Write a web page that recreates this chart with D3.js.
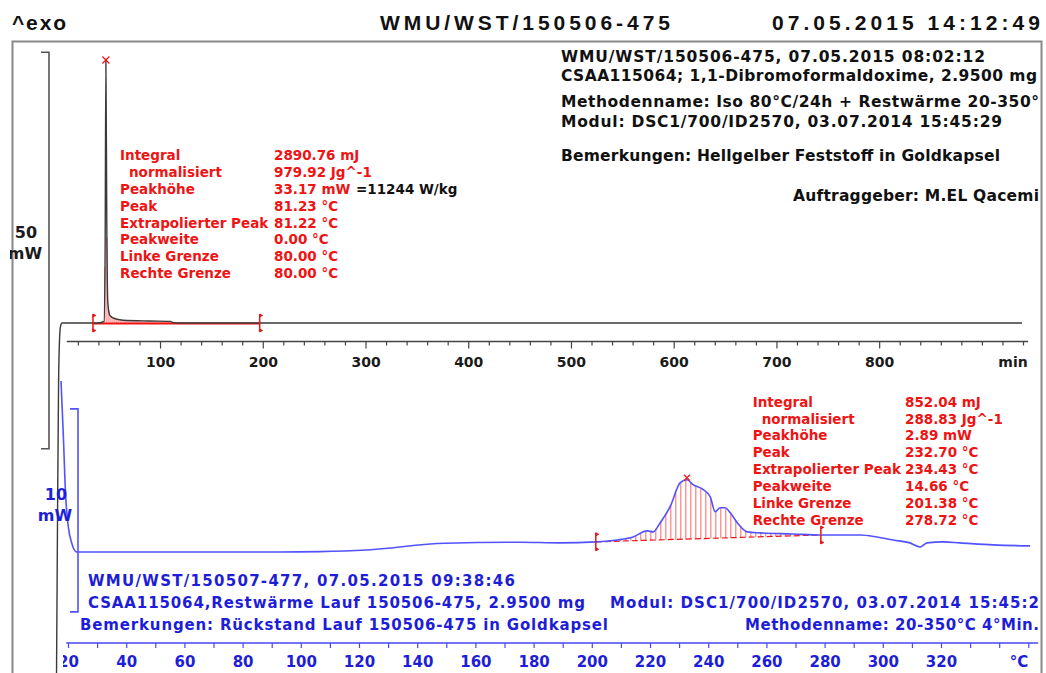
<!DOCTYPE html>
<html><head><meta charset="utf-8">
<script src="https://cdn.jsdelivr.net/npm/d3@7"></script>
<style>body{margin:0;background:#fff;} svg{display:block}</style>
</head><body>
<svg id="chart" width="1046" height="673"></svg>
<script>
// ---------------- DATA ----------------
const headerTexts = ["^exo", "WMU/WST/150506-475", "07.05.2015 14:12:49"];
const topInfoLines = [
  "WMU/WST/150506-475, 07.05.2015 08:02:12",
  "CSAA115064; 1,1-Dibromoformaldoxime, 2.9500 mg",
  "Methodenname: Iso 80°C/24h + Restwärme 20-350°",
  "Modul: DSC1/700/ID2570, 03.07.2014 15:45:29",
  "Bemerkungen: Hellgelber Feststoff in Goldkapsel",
  "Auftraggeber: M.EL Qacemi"
];
const bottomInfoLines = [
  "WMU/WST/150507-477, 07.05.2015 09:38:46",
  "CSAA115064,Restwärme Lauf 150506-475, 2.9500 mg",
  "Modul: DSC1/700/ID2570, 03.07.2014 15:45:2",
  "Bemerkungen: Rückstand Lauf 150506-475 in Goldkapsel",
  "Methodenname: 20-350°C 4°Min."
];
const resultLabels = ["Integral", "normalisiert", "Peakhöhe", "Peak", "Extrapolierter Peak", "Peakweite", "Linke Grenze", "Rechte Grenze"];
const topResultValues = ["2890.76 mJ", "979.92 Jg^-1", "33.17 mW", "81.23 °C", "81.22 °C", "0.00 °C", "80.00 °C", "80.00 °C"];
const topPeakExtra = "=11244 W/kg";
const bottomResultValues = ["852.04 mJ", "288.83 Jg^-1", "2.89 mW", "232.70 °C", "234.43 °C", "14.66 °C", "201.38 °C", "278.72 °C"];

// isothermal run: time (min) vs heat flow (mW, relative to baseline)
const topTime =     [-0.8, 0.2, 1.2, 2.2, 3.2, 4.6, 20, 40, 45.5, 46.5, 47.3, 48.2, 49.2, 51, 55, 64, 90, 110, 113, 120, 200, 400, 600, 800, 939];
const topHeatFlow = [-45, -25, -8, -2, -0.4, 0, 0, 0, 0.2, 8, 33.17, 12, 2.5, 1.0, 0.6, 0.35, 0.25, 0.2, 0.05, 0, 0, 0, 0, 0, 0];
const topPeakTime = 47.3, topPeakValue = 33.17;
const topLimits = [34.7, 197];

// residual heat run: temperature (°C) vs heat flow (mW, relative)
const bottomTemp = [17.6, 18.4, 19.2, 20.1, 21.3, 23.0, 48.2, 79.1, 92, 106.6, 122.7, 149.6, 175.3, 189.1, 201.4, 208.7, 214.2, 219.0, 221.1, 223.5, 226.9, 230.4, 232.7, 234.8, 238.3, 240.7, 242.4, 244.1, 245.8, 247.6, 250.0, 253.4, 257.8, 269.1, 278.4, 292.2, 298.0, 303.5, 309.3, 312.8, 315.2, 320.7, 326.5, 337.9, 350.6];
const bottomHeatFlow = [8.42, 5.71, 2.74, 1.25, 0.43, 0.0, 0.0, 0.0, 0.0, 0.02, 0.1, 0.43, 0.48, 0.45, 0.5, 0.59, 0.74, 1.04, 0.99, 1.44, 2.23, 3.42, 3.56, 3.32, 3.07, 2.72, 1.98, 2.18, 2.18, 1.93, 1.44, 0.99, 0.94, 0.89, 0.84, 0.84, 0.74, 0.59, 0.45, 0.25, 0.45, 0.5, 0.45, 0.35, 0.3];
const bottomPeakTemp = 232.70, bottomPeakValue = 3.56;
const bottomLimits = [201.38, 278.72];

const topScaleBar = { from: -15.85, size: 50, label: ["50", "mW"] };
const bottomScaleBar = { from: -2.95, size: 10, label: ["10", "mW"] };

const topTicks = d3.range(20, 941, 20);
const topTickLabels = [100, 200, 300, 400, 500, 600, 700, 800];
const topUnit = "min";
const bottomTicks = d3.range(20, 351, 10);
const bottomTickLabels = d3.range(20, 321, 20);
const bottomUnit = "°C";

// ---------------- STYLE ----------------
const RED = "#ee1414", HATCH = "#ff7070", BLUE_TXT = "#1e1ed8", BLUE_LINE = "#5252ff", GRAY = "#3a3a3a";
const FONT = "'DejaVu Sans', Verdana, sans-serif";

const svg = d3.select("#chart");
svg.append("rect").attr("width", 1046).attr("height", 673).attr("fill", "#fff");
const defs = svg.append("defs");
defs.append("clipPath").attr("id", "frameClip").append("rect").attr("x", 13).attr("y", 42).attr("width", 1028).attr("height", 640);
defs.append("clipPath").attr("id", "labelClip").append("rect").attr("x", 10).attr("y", 0).attr("width", 80).attr("height", 673);
defs.append("clipPath").attr("id", "botAxisClip").append("rect").attr("x", 63).attr("y", 600).attr("width", 978).attr("height", 80);

function txt(g, s, x, y, o) {
  const t = g.append("text").attr("x", x).attr("y", y).text(s)
    .attr("font-family", o.family || FONT)
    .attr("font-size", o.size).attr("font-weight", o.weight || "bold")
    .attr("fill", o.fill || "#111");
  if (o.anchor) t.attr("text-anchor", o.anchor);
  if (o.len) t.attr("textLength", o.len).attr("lengthAdjust", o.adjust || "spacing");
  return t;
}
function interp(xs, ys, x) {
  const i = d3.bisectLeft(xs, x);
  if (i <= 0) return ys[0];
  if (i >= xs.length) return ys[ys.length - 1];
  const t = (x - xs[i - 1]) / (xs[i] - xs[i - 1]);
  return ys[i - 1] + t * (ys[i] - ys[i - 1]);
}

// header (outside frame)
const HF = "'Liberation Sans Narrow', 'Liberation Sans', Arial, sans-serif";
txt(svg, headerTexts[0], 12, 30, { size: 21, family: HF, fill: "#111", len: 54 });
txt(svg, headerTexts[1], 380, 30, { size: 21, family: HF, fill: "#111", len: 290 });
txt(svg, headerTexts[2], 772, 30, { size: 21, family: HF, fill: "#111", len: 268 });

// frame
svg.append("rect").attr("x", 12.5).attr("y", 41.5).attr("width", 1029).attr("height", 700)
  .attr("fill", "none").attr("stroke", "#888").attr("stroke-width", 2);

const inner = svg.append("g").attr("clip-path", "url(#frameClip)");

// ---------------- SCALES ----------------
const topX = d3.scaleLinear().domain([0, 940]).range([57.3, 1023]);
const topY = d3.scaleLinear().domain([0, 50]).range([323, 323 - 396.5]);
const botX = d3.scaleLinear().domain([20, 350]).range([68, 1028.3]);
const botY = d3.scaleLinear().domain([0, 10]).range([552, 552 - 203]);

// ---------------- TOP AXIS ----------------
const topAxisY = 341.5;
const gTA = inner.append("g").attr("transform", `translate(0,${topAxisY})`);
gTA.call(d3.axisBottom(topX).tickValues(topTicks).tickSizeInner(4).tickSizeOuter(0)
  .tickFormat(d => topTickLabels.includes(d) ? d : ""));
gTA.select(".domain").remove();
gTA.append("line").attr("x1", topX(9.2)).attr("x2", topX(945)).attr("stroke", "#444").attr("stroke-width", 1.5);
gTA.selectAll(".tick line").attr("stroke", "#444").attr("stroke-width", 1.2)
  .attr("y2", d => topTickLabels.includes(d) ? 7 : 4);
gTA.selectAll(".tick text").attr("y", 25.5).attr("dy", 0).attr("font-family", FONT)
  .attr("font-size", 14).attr("font-weight", "bold").attr("fill", "#1a1a1a");
txt(inner, topUnit, 1013, topAxisY + 25.5, { size: 14, anchor: "middle", fill: "#1a1a1a" });

// ---------------- BOTTOM AXIS ----------------
const botAxisY = 643;
const gBA = svg.append("g").attr("clip-path", "url(#botAxisClip)").append("g").attr("transform", `translate(0,${botAxisY})`);
gBA.call(d3.axisBottom(botX).tickValues(bottomTicks).tickSizeInner(5).tickSizeOuter(0)
  .tickFormat(d => bottomTickLabels.includes(d) ? d : ""));
gBA.select(".domain").remove();
gBA.append("line").attr("x1", botX(19.4)).attr("x2", botX(353.4)).attr("stroke", "#4848f0").attr("stroke-width", 1.5);
gBA.selectAll(".tick line").attr("stroke", "#4848f0").attr("stroke-width", 1.2);
gBA.selectAll(".tick text").attr("y", 23.5).attr("dy", 0).attr("font-family", FONT)
  .attr("font-size", 15).attr("font-weight", "bold").attr("fill", BLUE_TXT);
txt(gBA, bottomUnit, 1019, 23.5, { size: 15, anchor: "middle", fill: BLUE_TXT });

// ---------------- SCALE BARS ----------------
function scaleBar(yScale, bar, x, color, lx, ly, labelColor) {
  const y1 = yScale(bar.from), y2 = yScale(bar.from + bar.size);
  svg.append("path").attr("d", `M${x - 8},${y2} L${x},${y2} L${x},${y1} L${x - 8},${y1}`)
    .attr("fill", "none").attr("stroke", color).attr("stroke-width", 1.6);
  txt(svg, bar.label[0], lx, ly, { size: 16, anchor: "middle", fill: labelColor });
  svg.append("g").attr("clip-path", "url(#labelClip)")
    .call(g => txt(g, bar.label[1], lx - 1, ly + 21, { size: 16, anchor: "middle", fill: labelColor }));
}
scaleBar(topY, topScaleBar, 49, "#555", 26, 238, "#1a1a1a");
scaleBar(botY, bottomScaleBar, 78, BLUE_LINE, 56, 499.5, BLUE_TXT);

// ---------------- TOP CURVE ----------------
const topData = d3.zip(topTime, topHeatFlow);
const topLine = d3.line().x(d => topX(d[0])).y(d => topY(d[1])).curve(d3.curveMonotoneX);
for (let x = topX(topLimits[0]); x <= topX(topLimits[1]); x += 2) {
  const v = interp(topTime, topHeatFlow, topX.invert(x));
  if (v > 0.05) inner.append("line").attr("x1", x).attr("x2", x).attr("y1", topY(0)).attr("y2", topY(v))
    .attr("stroke", HATCH).attr("stroke-width", 1);
}
inner.append("line").attr("x1", topX(topLimits[0])).attr("x2", topX(topLimits[1]))
  .attr("y1", topY(0) + 0.5).attr("y2", topY(0) + 0.5).attr("stroke", RED).attr("stroke-width", 2);
inner.append("path").datum(topData).attr("d", topLine).attr("fill", "none")
  .attr("stroke", GRAY).attr("stroke-width", 1.4);

// ---------------- BOTTOM CURVE ----------------
const botData = d3.zip(bottomTemp, bottomHeatFlow);
const botLine = d3.line().x(d => botX(d[0])).y(d => botY(d[1])).curve(d3.curveMonotoneX);
const vL = interp(bottomTemp, bottomHeatFlow, bottomLimits[0]);
const vR = interp(bottomTemp, bottomHeatFlow, bottomLimits[1]);
for (let x = botX(bottomLimits[0]); x <= botX(bottomLimits[1]); x += 5) {
  const T = botX.invert(x);
  const base = vL + (vR - vL) * (T - bottomLimits[0]) / (bottomLimits[1] - bottomLimits[0]);
  const v = interp(bottomTemp, bottomHeatFlow, T);
  if (v > base) inner.append("line").attr("x1", x).attr("x2", x).attr("y1", botY(base)).attr("y2", botY(v))
    .attr("stroke", HATCH).attr("stroke-width", 1.1);
}
inner.append("line").attr("x1", botX(bottomLimits[0])).attr("x2", botX(bottomLimits[1]))
  .attr("y1", botY(vL)).attr("y2", botY(vR)).attr("stroke", RED).attr("stroke-width", 1.2).attr("stroke-dasharray", "6,3");
inner.append("path").datum(botData).attr("d", botLine).attr("fill", "none")
  .attr("stroke", BLUE_LINE).attr("stroke-width", 1.6);

// ---------------- MARKERS ----------------
function limitMarker(x, y) {
  const g = inner.append("g");
  g.append("line").attr("x1", x).attr("x2", x).attr("y1", y - 9).attr("y2", y + 9).attr("stroke", RED).attr("stroke-width", 1.5);
  g.append("path").attr("d", `M${x},${y - 9} l3,1.5 l-3,1.5 z M${x},${y + 9} l3,-1.5 l-3,-1.5 z`).attr("fill", RED).attr("stroke", RED).attr("stroke-width", 0.8);
}
function peakCross(x, y, s) {
  inner.append("path").attr("d", `M${x - s},${y - s} L${x + s},${y + s} M${x - s},${y + s} L${x + s},${y - s}`)
    .attr("stroke", RED).attr("stroke-width", 1.2);
}
limitMarker(topX(topLimits[0]), topY(0));
limitMarker(topX(topLimits[1]), topY(0));
peakCross(topX(topPeakTime), topY(topPeakValue), 3.5);
limitMarker(botX(bottomLimits[0]), botY(vL));
limitMarker(botX(bottomLimits[1]), botY(vR));
peakCross(botX(bottomPeakTemp), botY(bottomPeakValue) - 2, 3);

// ---------------- RESULT TABLES ----------------
function results(labelX, valueX, y0, step, values) {
  resultLabels.forEach((l, i) => {
    txt(inner, l, labelX + (i === 1 ? 9 : 0), y0 + i * step, { size: 13.5, fill: RED });
    txt(inner, values[i], valueX, y0 + i * step, { size: 13.5, fill: RED });
  });
}
results(120, 274, 160.4, 16.8, topResultValues);
txt(inner, topPeakExtra, 356, 160.4 + 2 * 16.8, { size: 13.5, fill: "#111" });
results(752.7, 905, 406.6, 16.9, bottomResultValues);

// ---------------- INFO TEXT ----------------
const topInfoPos = [[561, 62, 424], [561, 80.5, 476], [561, 107, 478], [561, 127, 441], [561, 160.5, 439], [793, 200.5, 246]];
topInfoLines.forEach((s, i) => {
  const p = topInfoPos[i];
  txt(inner, s, p[0], p[1], { size: 15.5, fill: "#111", len: p[2] });
});

const botInfoPos = [[88, 585.5, 427], [88, 607.5, 497], [610, 607.5, 429], [80, 629.5, 528], [745, 629.5, 294]];
bottomInfoLines.forEach((s, i) => {
  const p = botInfoPos[i];
  txt(inner, s, p[0], p[1], { size: 15, fill: BLUE_TXT, len: p[2] });
});
</script>
</body></html>
